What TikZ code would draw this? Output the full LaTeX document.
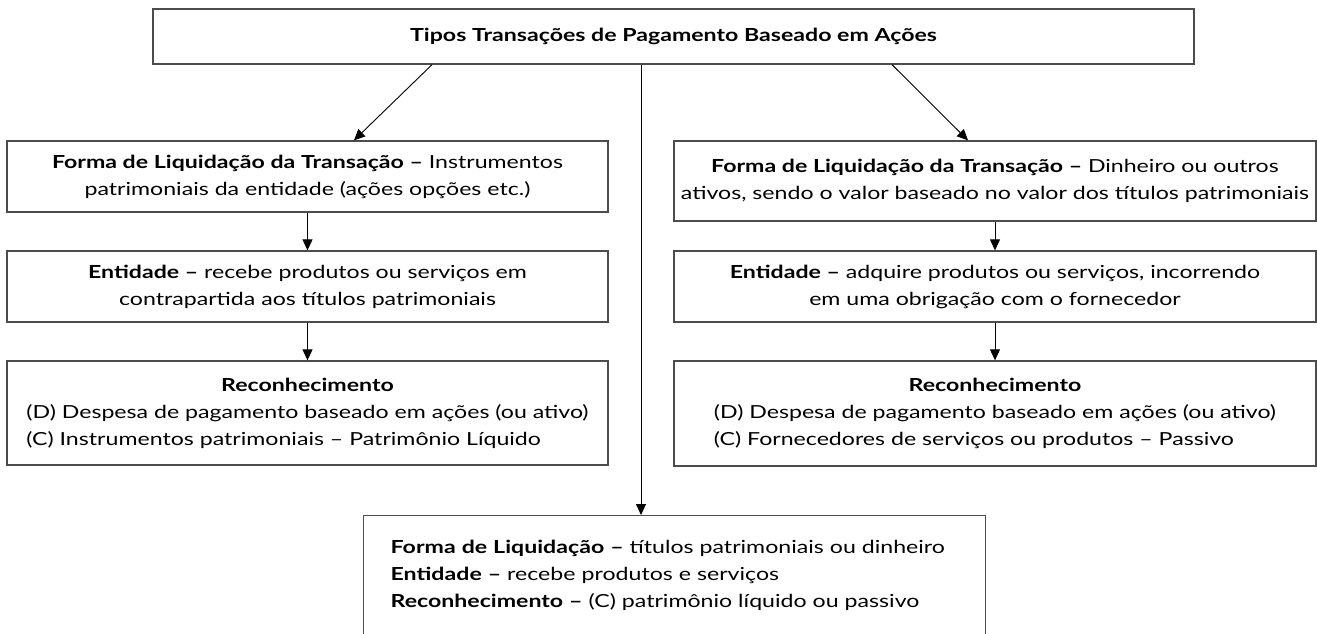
\documentclass[tikz,border=0pt]{standalone}
\usepackage{fontspec}
\setmainfont{Lato}[FakeStretch=1.285]
\usetikzlibrary{arrows.meta,calc}
\begin{document}
\begin{tikzpicture}[x=1pt,y=-1pt,
  box/.style={draw=black!70, line width=1.3pt, rectangle, inner sep=0pt, align=center,
    font=\fontsize{18}{27}\selectfont},
  arr/.style={draw=black, line width=0.9pt, -{Triangle[length=11pt,width=10pt]}}]
\useasboundingbox (0,0) rectangle (1317,634);
\fill[white] (0,0) rectangle (1317,634);
\node[box, minimum width=1041pt, minimum height=55pt] (top) at (673.5,36.5)
  {\textbf{Tipos Transações de Pagamento Baseado em Ações}};
% left column
\node[box, minimum width=601pt, minimum height=71pt] (l1) at (307.5,176.5)
  {\textbf{Forma de Liquidação da Transação –} Instrumentos\\patrimoniais da entidade (ações opções etc.)};
\node[box, minimum width=601pt, minimum height=71pt] (l2) at (307.5,286.5)
  {\textbf{Entidade –} recebe produtos ou serviços em\\contrapartida aos títulos patrimoniais};
\node[box, minimum width=601pt, minimum height=104pt] (l3) at (307.5,413)
  {\begin{tabular}{@{}l@{}}\multicolumn{1}{@{}c@{}}{\textbf{Reconhecimento}}\\(D) Despesa de pagamento baseado em ações (ou ativo)\\(C) Instrumentos patrimoniais – Patrimônio Líquido\end{tabular}};
% right column
\node[box, minimum width=642pt, minimum height=80pt] (r1) at (995,181)
  {\textbf{Forma de Liquidação da Transação –} Dinheiro ou outros\\ativos, sendo o valor baseado no valor dos títulos patrimoniais};
\node[box, minimum width=642pt, minimum height=71pt] (r2) at (995,286.5)
  {\textbf{Entidade –} adquire produtos ou serviços, incorrendo\\em uma obrigação com o fornecedor};
\node[box, minimum width=642pt, minimum height=105pt] (r3) at (995,413.5)
  {\begin{tabular}{@{}l@{}}\multicolumn{1}{@{}c@{}}{\textbf{Reconhecimento}}\\(D) Despesa de pagamento baseado em ações (ou ativo)\\(C) Fornecedores de serviços ou produtos – Passivo\end{tabular}};
% bottom box
\node[box, align=left, minimum width=622pt, minimum height=119pt, anchor=north west, text width=568pt, inner xsep=27pt] (bot) at (363,515)
  {\textbf{Forma de Liquidação –} títulos patrimoniais ou dinheiro\\\textbf{Entidade –} recebe produtos e serviços\\\textbf{Reconhecimento –} (C) patrimônio líquido ou passivo};
% connectors
\draw[arr] ([xshift=-241.5pt]top.south) -- ([xshift=46.5pt]l1.north);
\draw[arr] ([xshift=218.5pt]top.south) -- ([xshift=-27pt]r1.north);
\coordinate (c0) at ([xshift=-32.5pt]top.south);
\draw[arr] (c0) -- (c0 |- bot.north);
\draw[arr] (l1) -- (l2);
\draw[arr] (l2) -- (l3);
\draw[arr] (r1) -- (r2);
\draw[arr] (r2) -- (r3);
\end{tikzpicture}
\end{document}
